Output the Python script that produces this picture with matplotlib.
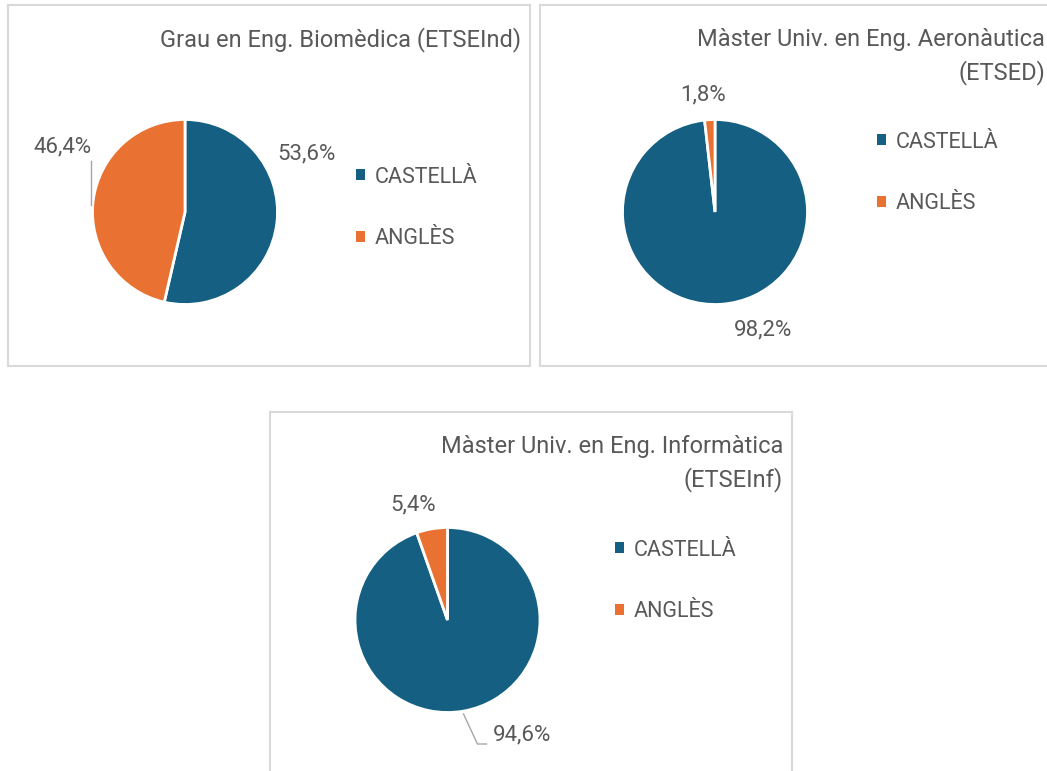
import matplotlib
matplotlib.use("Agg")
import matplotlib.pyplot as plt
from matplotlib.patches import Patch

plt.rcParams['font.family'] = ['Roboto', 'DejaVu Sans']

# dades
idiomes = ['CASTELLÀ', 'ANGLÈS']
colors = ['#156082', '#E97132']

titol_biomedica = ['Grau en Eng. Biomèdica (ETSEInd)']
titol_aeronautica = ['Màster Univ. en Eng. Aeronàutica', '(ETSED)']
titol_informatica = ['Màster Univ. en Eng. Informàtica', '(ETSEInf)']

pct_biomedica = [53.6, 46.4]
pct_aeronautica = [98.2, 1.8]
pct_informatica = [94.6, 5.4]

W, H = 1047, 771
R = 92.5          # radi del pastís en px
GRIS = '#595959'

fig = plt.figure(figsize=(W / 100, H / 100), dpi=100)
fig.patch.set_facecolor('white')


def fmt(v):
    return f"{v:.1f}%".replace('.', ',')


def grafic(caixa, centre, valors, titol, etiquetes, legend_pos, guia=None):
    esq, dalt, dreta, baix = caixa
    cx, cy = centre
    ax = fig.add_axes([esq / W, 1 - baix / H, (dreta - esq) / W, (baix - dalt) / H])
    ax.pie(valors, colors=colors, startangle=90, counterclock=False,
           radius=1, wedgeprops=dict(edgecolor='white', linewidth=2))
    ax.set_aspect('auto')
    ax.set_xlim((esq - cx) / R, (dreta - cx) / R)
    ax.set_ylim((cy - baix) / R, (cy - dalt) / R)
    ax.set_frame_on(True)
    ax.set_xticks([])
    ax.set_yticks([])
    for s in ax.spines.values():
        s.set_color('#D9D9D9')
        s.set_linewidth(1.5)

    # títol alineat a la dreta
    for i, linia in enumerate(titol):
        ax.text((dreta - 9 - cx) / R, (cy - (dalt + 41 + 33 * i)) / R, linia,
                ha='right', va='baseline', fontsize=17, color=GRIS)

    # etiquetes de percentatge
    for v, (dx, dy) in zip(valors, etiquetes):
        ax.text(dx / R, -dy / R, fmt(v), ha='center', va='center',
                fontsize=16, color=GRIS)

    # línia guia de l'etiqueta
    if guia is not None:
        gx, gy = zip(*guia)
        ax.plot([x / R for x in gx], [-y / R for y in gy], color='#A6A6A6', lw=1)

    handles = [Patch(facecolor=c) for c in colors]
    ax.legend(handles, idiomes, loc='center left', frameon=False,
              bbox_to_anchor=((cx + legend_pos[0]) / W, 1 - (cy + legend_pos[1]) / H),
              bbox_transform=fig.transFigure, fontsize=15.5, labelcolor=GRIS,
              handlelength=0.42, handleheight=0.42, handletextpad=0.45,
              labelspacing=1.9, borderpad=0, borderaxespad=0)


grafic((8, 5, 530, 366), (185, 212), pct_biomedica, titol_biomedica,
       [(121, -58), (-123, -65.5)], (171, -4),
       guia=[(-94, -51), (-94, -7)])

grafic((540, 5, 1054, 366), (715, 212), pct_aeronautica, titol_aeronautica,
       [(48, 118), (-12, -117)], (162, -39))

grafic((270, 412, 792, 773), (447.5, 620), pct_informatica, titol_informatica,
       [(74.5, 115), (-34.5, -115)], (167.5, -39),
       guia=[(16, 94), (30, 124), (39, 124)])

fig.savefig('out.png', dpi=100)
